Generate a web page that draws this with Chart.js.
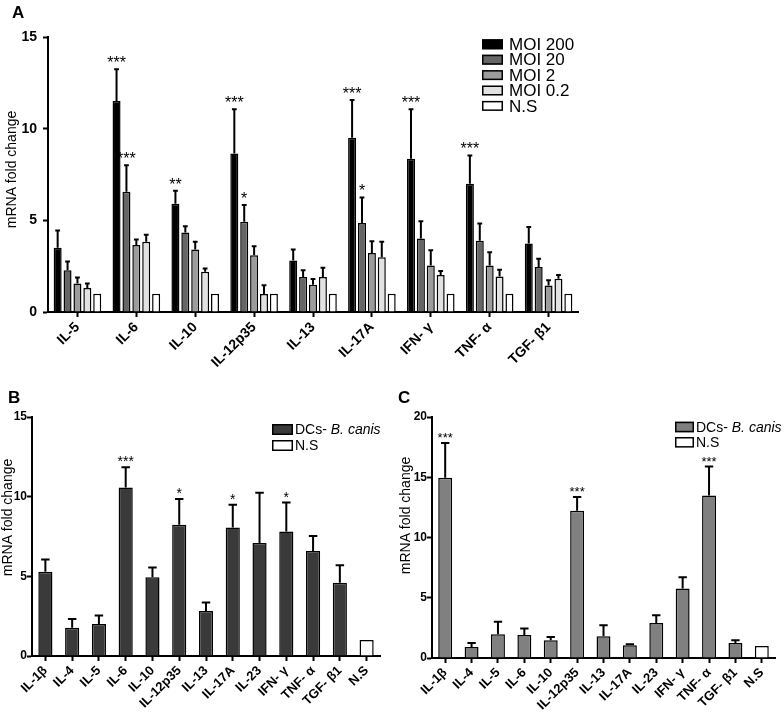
<!DOCTYPE html>
<html>
<head>
<meta charset="utf-8">
<script src="https://cdn.jsdelivr.net/npm/chart.js@4.4.1/dist/chart.umd.min.js"></script>
<style>
body{margin:0;background:#fff;width:784px;height:714px;position:relative;overflow:hidden;font-family:"Liberation Sans",Arial,sans-serif;}
canvas{position:absolute;}
.lbl{position:absolute;font-weight:bold;font-size:17px;color:#000;}
</style>
</head>
<body>
<canvas id="chartA" width="600" height="372" style="left:0;top:0"></canvas>
<canvas id="chartB" width="395" height="344" style="left:0;top:370px"></canvas>
<canvas id="chartC" width="389" height="344" style="left:395px;top:370px"></canvas>
<div class="lbl" style="left:12px;top:3px">A</div>
<div class="lbl" style="left:8px;top:388px">B</div>
<div class="lbl" style="left:398px;top:388px">C</div>
<script>
/* ================= DATA ================= */
// panel A : cytokines x MOI
const cytokinesA = ["IL-5", "IL-6", "IL-10", "IL-12p35", "IL-13", "IL-17A", "IFN- γ", "TNF- α", "TGF- β1"];
const moi200    = [3.50, 11.51, 5.90, 8.65, 2.81, 9.51, 8.36, 6.99, 3.73];
const moi200Sem = [0.94, 1.73, 0.71, 2.41, 0.60, 2.06, 2.70, 1.55, 0.91];
const moi20     = [2.28, 6.56, 4.34, 4.92, 1.91, 4.86, 4.01, 3.88, 2.46];
const moi20Sem  = [0.47, 1.45, 0.34, 0.91, 0.37, 1.39, 0.94, 0.95, 0.45];
const moi2      = [1.55, 3.66, 3.41, 3.10, 1.48, 3.22, 2.53, 2.53, 1.44];
const moi2Sem   = [0.33, 0.29, 0.42, 0.49, 0.32, 0.64, 0.84, 0.73, 0.29];
const moi02     = [1.31, 3.83, 2.19, 0.98, 1.91, 2.99, 2.02, 1.93, 1.82];
const moi02Sem  = [0.24, 0.38, 0.18, 0.48, 0.51, 0.84, 0.22, 0.37, 0.20];
const nsA       = [1, 1, 1, 1, 1, 1, 1, 1, 1];
const moi200Stars = ["", "***", "**", "***", "", "***", "***", "***", ""];
const moi20Stars  = ["", "***", "", "*", "", "*", "", "", ""];
const ticksA = [0, 5, 10, 15];

// panels B and C : 13 categories
const cytokinesBC = ["IL-1β", "IL-4", "IL-5", "IL-6", "IL-10", "IL-12p35", "IL-13", "IL-17A", "IL-23", "IFN- γ", "TNF- α", "TGF- β1", "N.S"];
const dcB    = [5.29, 1.78, 2.01, 10.57, 4.95, 8.24, 2.83, 8.06, 7.09, 7.82, 6.59, 4.59, null];
const dcBSem = [0.77, 0.55, 0.53, 1.28, 0.61, 1.62, 0.53, 1.44, 3.15, 1.81, 0.94, 1.10, null];
const dcBStars = ["", "", "", "***", "", "*", "", "*", "", "*", "", "", ""];
const dcC    = [14.95, 0.92, 1.97, 1.91, 1.47, 12.21, 1.80, 1.05, 2.91, 5.77, 13.48, 1.25, null];
const dcCSem = [2.89, 0.33, 1.03, 0.53, 0.28, 1.16, 0.92, 0.09, 0.64, 0.94, 2.41, 0.22, null];
const dcCStars = ["***", "", "", "", "", "***", "", "", "", "", "***", "", ""];
const nsBC   = [null, null, null, null, null, null, null, null, null, null, null, null, 1];
const ticksB = [0, 5, 10, 15];
const ticksC = [0, 5, 10, 15, 20];

const yTitle = "mRNA fold change";

/* ================= PLUGINS ================= */
const FONT = '"Liberation Sans", Arial, sans-serif';
const NARROW = '"Liberation Sans Narrow", "Liberation Sans", Arial, sans-serif';

// error bars (up only) + significance stars
const errorBars = {
    id: "errorBars",
    afterDatasetsDraw(chart){
        const o = chart.options.plugins.errorBars;
        const ctx = chart.ctx;
        const y = chart.scales.y;
        chart.data.datasets.forEach((ds, i) => {
            if(!ds.sem) return;
            chart.getDatasetMeta(i).data.forEach((bar, j) => {
                const v = ds.data[j], e = ds.sem[j];
                if(v == null || e == null) return;
                const top = y.getPixelForValue(v + e);
                ctx.save();
                ctx.strokeStyle = "#000";
                ctx.lineWidth = o.lineWidth;
                ctx.beginPath();
                ctx.moveTo(bar.x, bar.y);
                ctx.lineTo(bar.x, top);
                ctx.moveTo(bar.x - bar.width * o.cap, top);
                ctx.lineTo(bar.x + bar.width * o.cap, top);
                ctx.stroke();
                if(ds.stars && ds.stars[j]){
                    ctx.fillStyle = "#000";
                    ctx.font = o.starFont;
                    ctx.textAlign = "center";
                    ctx.textBaseline = "alphabetic";
                    ctx.fillText(ds.stars[j], bar.x, top - o.starGap);
                }
                ctx.restore();
            });
        });
    }
};

// boxed legend drawn inside the plot
const boxLegend = {
    id: "boxLegend",
    afterDraw(chart){
        const o = chart.options.plugins.boxLegend;
        const ctx = chart.ctx;
        chart.data.datasets.forEach((ds, i) => {
            const top = o.y + i * o.rowH;
            ctx.save();
            ctx.fillStyle = ds.backgroundColor;
            ctx.fillRect(o.x, top, o.boxW, o.boxH);
            ctx.strokeStyle = "#000";
            ctx.lineWidth = 1.5;
            ctx.strokeRect(o.x + 0.75, top + 0.75, o.boxW - 1.5, o.boxH - 1.5);
            ctx.fillStyle = "#000";
            ctx.textAlign = "left";
            ctx.textBaseline = "middle";
            let tx = o.x + o.boxW + o.gap;
            let parts = [ds.label];
            if(o.italic && ds.label.includes(o.italic)){
                parts = [ds.label.replace(o.italic, ""), o.italic];
            }
            parts.forEach((p, k) => {
                ctx.font = (k === 1 ? "italic " : "") + o.font;
                ctx.fillText(p, tx, top + o.boxH / 2 + 1);
                tx += ctx.measureText(p).width;
            });
            ctx.restore();
        });
    }
};

// y title, a bit above the middle of the axis like in the figure
const sideTitle = {
    id: "sideTitle",
    afterDraw(chart){
        const o = chart.options.plugins.sideTitle;
        const ctx = chart.ctx;
        const a = chart.chartArea;
        ctx.save();
        ctx.translate(o.x, (a.top + a.bottom) / 2 + o.dy);
        ctx.rotate(-Math.PI / 2);
        ctx.font = o.font;
        ctx.fillStyle = "#000";
        ctx.textAlign = "center";
        ctx.textBaseline = "middle";
        ctx.fillText(o.text, 0, 0);
        ctx.restore();
    }
};

/* ================= CHART BUILDER ================= */
function axes(yMax, yTicks, yWidth, xHeight, tickFont, labelSize, ySize, yPad){
    return {
        x: {
            offset: true,
            grid: { display: true, drawOnChartArea: false, drawTicks: true, tickLength: 5, tickWidth: 2, tickColor: "#000", offset: false },
            border: { display: true, color: "#000", width: 2 },
            ticks: { color: "#000", minRotation: 45, maxRotation: 45, autoSkip: false, padding: 2,
                     font: { family: tickFont, size: labelSize, weight: "bold" } },
            afterFit(scale){ scale.height = xHeight; }
        },
        y: {
            min: 0, max: yMax,
            grid: { display: true, drawOnChartArea: false, drawTicks: true, tickLength: 5, tickWidth: 2, tickColor: "#000" },
            border: { display: true, color: "#000", width: 2 },
            afterBuildTicks(scale){ scale.ticks = yTicks.map(v => ({ value: v })); },
            ticks: { color: "#000", padding: yPad, font: { family: tickFont, size: ySize, weight: "bold" } },
            afterFit(scale){ scale.width = yWidth; }
        }
    };
}

function barSet(label, data, sem, stars, color, opts){
    return Object.assign({
        label: label, data: data, sem: sem, stars: stars,
        backgroundColor: color, borderColor: "#000", borderWidth: 1.5
    }, opts || {});
}

/* ---------- A ---------- */
new Chart(document.getElementById("chartA"), {
    type: "bar",
    data: {
        labels: cytokinesA,
        datasets: [
            barSet("MOI 200", moi200, moi200Sem, moi200Stars, "#000000"),
            barSet("MOI 20", moi20, moi20Sem, moi20Stars, "#666666"),
            barSet("MOI 2", moi2, moi2Sem, null, "#9c9c9c"),
            barSet("MOI 0.2", moi02, moi02Sem, null, "#e2e2e2"),
            barSet("N.S", nsA, null, null, "#ffffff")
        ]
    },
    options: {
        responsive: false, animation: false, devicePixelRatio: 1,
        categoryPercentage: 0.84, barPercentage: 0.81,
        layout: { padding: { top: 37, right: 22, left: 0, bottom: 0 } },
        scales: axes(15, ticksA, 48, 60, FONT, 14, 14, 6),
        plugins: {
            legend: { display: false }, tooltip: { enabled: false },
            errorBars: { lineWidth: 2, cap: 0.3, starFont: "16px " + FONT, starGap: 1 },
            boxLegend: { x: 482, y: 39.3, rowH: 15.4, boxW: 21, boxH: 10, gap: 6, font: "17px " + FONT },
            sideTitle: { text: yTitle, x: 12, dy: -5, font: "14px " + FONT }
        }
    },
    plugins: [errorBars, boxLegend, sideTitle]
});

/* ---------- B ---------- */
new Chart(document.getElementById("chartB"), {
    type: "bar",
    data: {
        labels: cytokinesBC,
        datasets: [
            barSet("DCs- B. canis", dcB, dcBSem, dcBStars, "#3a3a3a", { grouped: false }),
            barSet("N.S", nsBC, null, null, "#ffffff", { grouped: false })
        ]
    },
    options: {
        responsive: false, animation: false, devicePixelRatio: 1,
        categoryPercentage: 0.8, barPercentage: 0.66,
        layout: { padding: { top: 47, right: 15, left: 0, bottom: 0 } },
        scales: axes(15, ticksB, 32, 58, NARROW, 13, 12, 0),
        plugins: {
            legend: { display: false }, tooltip: { enabled: false },
            errorBars: { lineWidth: 2, cap: 0.3, starFont: "14px " + FONT, starGap: 1 },
            boxLegend: { x: 272, y: 54, rowH: 16, boxW: 21, boxH: 11, gap: 2, font: "14px " + FONT, italic: "B. canis" },
            sideTitle: { text: yTitle, x: 8, dy: -19, font: "14px " + FONT }
        }
    },
    plugins: [errorBars, boxLegend, sideTitle]
});

/* ---------- C ---------- */
new Chart(document.getElementById("chartC"), {
    type: "bar",
    data: {
        labels: cytokinesBC,
        datasets: [
            barSet("DCs- B. canis", dcC, dcCSem, dcCStars, "#808080", { grouped: false }),
            barSet("N.S", nsBC, null, null, "#ffffff", { grouped: false })
        ]
    },
    options: {
        responsive: false, animation: false, devicePixelRatio: 1,
        categoryPercentage: 0.8, barPercentage: 0.66,
        layout: { padding: { top: 47, right: 9, left: 0, bottom: 0 } },
        scales: axes(20, ticksC, 37, 56, NARROW, 13, 12, 0),
        plugins: {
            legend: { display: false }, tooltip: { enabled: false },
            errorBars: { lineWidth: 2, cap: 0.3, starFont: "13px " + FONT, starGap: 1 },
            boxLegend: { x: 280, y: 51.7, rowH: 15.3, boxW: 19, boxH: 10.6, gap: 2, font: "14px " + FONT, italic: "B. canis" },
            sideTitle: { text: yTitle, x: 11, dy: -22, font: "14px " + FONT }
        }
    },
    plugins: [errorBars, boxLegend, sideTitle]
});
</script>
</body>
</html>
